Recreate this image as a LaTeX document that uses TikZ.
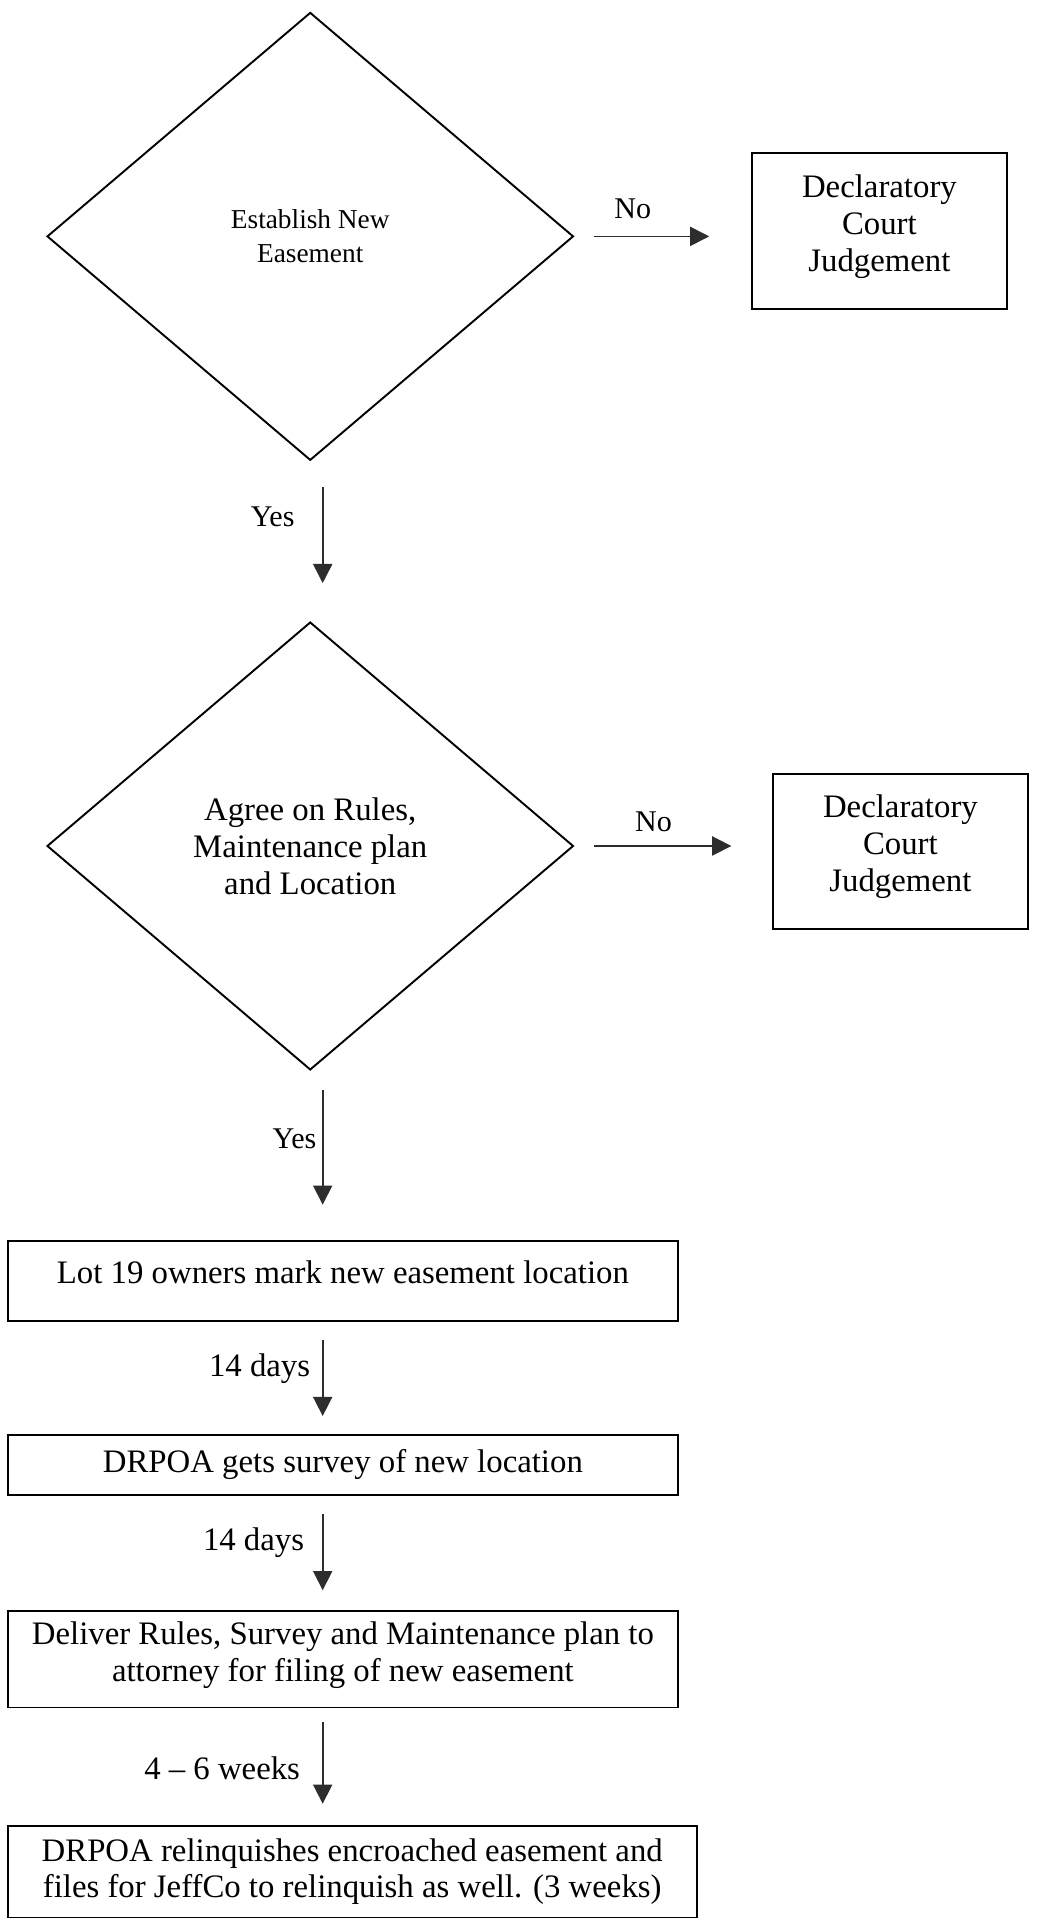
\documentclass[tikz,border=0pt]{standalone}
\usepackage{fontspec}
\setmainfont{Liberation Serif}
\usepackage{xcolor}
\usepackage{tikz}
\usetikzlibrary{shapes.geometric, arrows.meta, positioning, calc}
\definecolor{inkdark}{RGB}{45,45,45}
\tikzset{
  decision/.style={diamond, draw=black, line width=0.7pt,
    minimum width=6.77cm, minimum height=5.76cm, align=center, inner sep=0pt},
  court/.style={rectangle, draw=black, line width=0.7pt,
    minimum width=3.27cm, minimum height=2cm, align=center,
    font=\fontsize{12}{13.5}\selectfont, text depth=6pt},
  stepbox/.style={rectangle, draw=black, line width=0.7pt,
    minimum width=8.62cm, align=center, font=\fontsize{12}{13.5}\selectfont},
  arrow/.style={-{Triangle[length=7pt,width=7pt]}, line width=0.6pt, color=inkdark},
  tag/.style={font=\fontsize{12}{13.5}\selectfont, inner sep=1pt, text=black},
  choice/.style={tag, font=\fontsize{11}{13}\selectfont}
}

\begin{document}
\begin{tikzpicture}
  % Page frame
  \useasboundingbox (0,0) rectangle (13.34,-24.68);
  \coordinate (axis) at (4.15,0);

  % Decisions
  \node[decision, font=\fontsize{10}{12.4}\selectfont] (dmdA) at (3.99,-3.04) {Establish New\\Easement};
  \node[decision, font=\fontsize{12}{13.5}\selectfont] (dmdB) at (3.99,-10.88) {Agree on Rules,\\Maintenance plan\\and Location};

  % Court judgement boxes
  \node[court] (courtA) at (11.31,-2.97) {Declaratory\\Court\\Judgement};
  \node[court] (courtB) at (11.58,-10.95) {Declaratory\\Court\\Judgement};

  % Steps
  \node[stepbox, minimum height=1.03cm, text depth=6pt] (mark) at (4.41,-16.47) {Lot 19 owners mark new easement location};
  \node[stepbox, minimum height=0.77cm] (survey) at (4.41,-18.84) {DRPOA gets survey of new location};
  \node[stepbox, minimum height=1.24cm, text depth=5.5pt] (deliver) at (4.41,-21.34) {Deliver Rules, Survey and Maintenance plan to\\attorney for filing of new easement};
  \node[stepbox, minimum width=8.86cm, minimum height=1.18cm] (relinq) at (4.53,-24.07) {DRPOA relinquishes encroached easement and\\files for JeffCo to relinquish as well. (3 weeks)};

  % No branches
  \draw[arrow, shorten <=7.3pt, shorten >=15.4pt] (dmdA.east) -- (dmdA.east -| courtA.west)
    node[choice, pos=0.33, above=5pt] {No};
  \draw[arrow, shorten <=7.3pt, shorten >=15pt] (dmdB.east) -- (dmdB.east -| courtB.west)
    node[choice, pos=0.40, above=4pt] {No};

  % Yes branches and durations
  \draw[arrow, shorten <=9.5pt, shorten >=13.9pt] (dmdA.south -| axis) -- (dmdB.north -| axis)
    node[choice, pos=0.35, left=9pt] {Yes};
  \draw[arrow, shorten <=7pt, shorten >=12.8pt] (dmdB.south -| axis) -- (mark.north -| axis)
    node[choice, pos=0.40, left=1pt] {Yes};
  \draw[arrow, shorten <=6.6pt, shorten >=6.6pt] (mark.south -| axis) -- (survey.north -| axis)
    node[tag, pos=0.42, left=3.3pt] {14 days};
  \draw[arrow, shorten <=6.6pt, shorten >=7.3pt] (survey.south -| axis) -- (deliver.north -| axis)
    node[tag, pos=0.41, left=5.5pt] {14 days};
  \draw[arrow, shorten <=4.8pt, shorten >=7.7pt] (deliver.south -| axis) -- (relinq.north -| axis)
    node[tag, pos=0.51, left=7pt] {4 -- 6 weeks};
\end{tikzpicture}
\end{document}
